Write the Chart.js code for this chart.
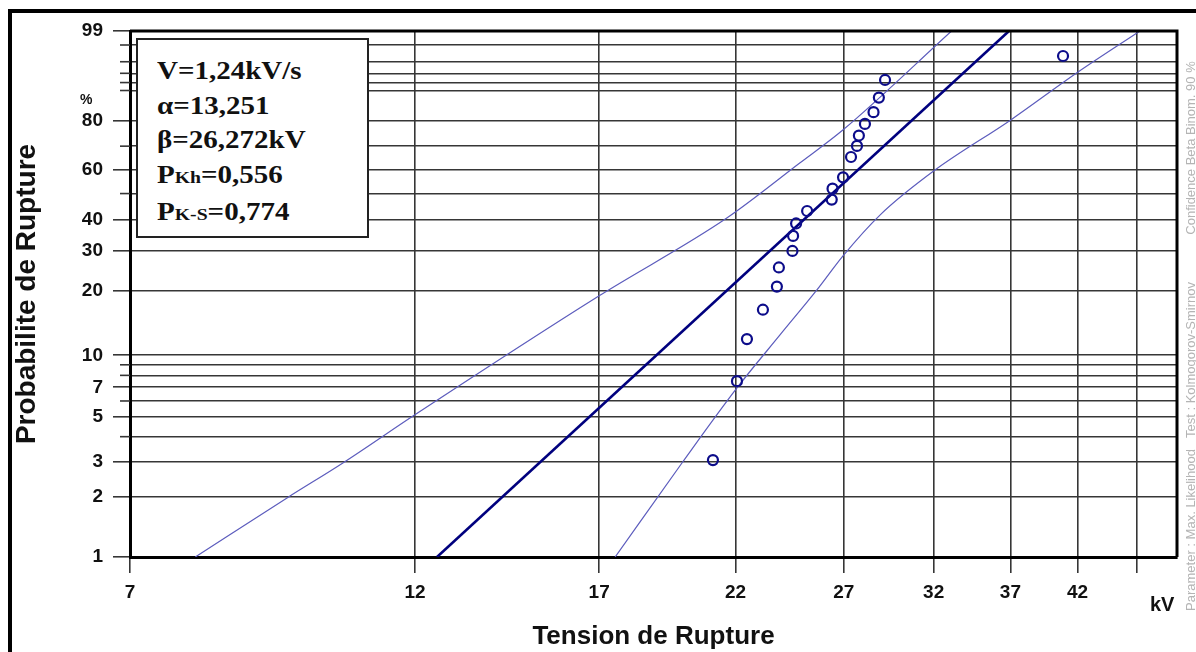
<!DOCTYPE html>
<html>
<head>
<meta charset="utf-8">
<title>Probabilite de Rupture</title>
<script src="https://cdn.jsdelivr.net/npm/chart.js@4.4.0/dist/chart.umd.min.js"></script>
<style>
html, body { margin:0; padding:0; background:#fff; }
#wrap { position:relative; width:1196px; height:652px; overflow:hidden; background:#fff; }
#chart { position:absolute; left:0; top:0; }
.frame { position:absolute; left:8px; top:9px; width:1400px; height:900px;
  border-left:4px solid #000; border-top:4px solid #000; pointer-events:none; }
.params { position:absolute; left:136px; top:38px; width:233px; height:200px; box-sizing:border-box;
  border:2px solid #222; background:#fff; padding:14px 0 0 19px;
  font-family:"Liberation Serif","Times New Roman",serif; font-weight:bold; font-size:25px;
  line-height:34.5px; color:#111; white-space:nowrap; }
.params .txt { display:inline-block; transform:scaleX(1.16); transform-origin:left top; }
.params .sub { font-size:17px; }
.pct { position:absolute; left:80px; top:91px; font:bold 14px "Liberation Sans", Arial, sans-serif; color:#111; }
.kv { position:absolute; left:1150px; top:594px; font:bold 20px "Liberation Sans", Arial, sans-serif; color:#111; line-height:20px; }
.side { position:absolute; left:1190px; font:13px "Liberation Sans", Arial, sans-serif; color:#b4b4b4;
  white-space:nowrap; transform:translate(-50%,-50%) rotate(-90deg); }
</style>
</head>
<body>
<div id="wrap">
  <canvas id="chart" width="1196" height="652"></canvas>
  <div class="params"><span class="txt">
    V=1,24kV/s<br>
    α=13,251<br>
    β=26,272kV<br>
    P<span class="sub">Kh</span>=0,556<br>
    P<span class="sub">K-S</span>=0,774
  </span></div>
  <div class="pct">%</div>
  <div class="kv">kV</div>
  <div class="side" style="top:530px">Parameter : Max. Likelihood</div>
  <div class="side" style="top:360px">Test : Kolmogorov-Smirnov</div>
  <div class="side" style="top:148px">Confidence Beta Binom. 90 %</div>
  <div class="frame"></div>
</div>
<script>
// axis ticks (kV on a log axis, % on a Weibull axis)
const kvTicks = [7, 12, 17, 22, 27, 32, 37, 42, 47];
const kvTickLabels = ["7", "12", "17", "22", "27", "32", "37", "42", ""];
const kvRange = [7, 50.7];
const pctTicks = [1, 2, 3, 4, 5, 6, 7, 8, 9, 10, 20, 30, 40, 50, 60, 70, 80, 90, 92, 94, 96, 98, 99];
const pctTickLabels = ["1", "2", "3", "", "5", "", "7", "", "", "10", "20", "30", "40", "", "60", "", "80", "", "", "", "", "", "99"];
const pctRange = [1, 99];

// measured breakdowns
const ruptureKv  = [21.08, 22.06, 22.48, 23.17, 23.79, 23.88, 24.50, 24.53, 24.67, 25.19, 26.39,
                    26.43, 26.96, 27.37, 27.68, 27.78, 28.10, 28.56, 28.85, 29.19, 40.87];
const rupturePct = [3.06, 7.5, 11.95, 16.4, 20.9, 25.4, 29.9, 34.5, 38.7, 43.2, 47.6,
                    52.0, 56.7, 65.4, 70.1, 74.4, 79.0, 83.3, 88.0, 92.6, 96.8];

// fitted line
const fitKv  = [12.51, 36.9];
const fitPct = [1, 99];

// confidence bounds 90 %
const upperKv  = [7.92, 9.42, 10.47, 11.98, 17.0, 21.64, 24.84, 26.95, 33.1];
const upperPct = [1, 1.98, 2.96, 5.1, 19.0, 40.6, 62.8, 76.6, 99];
const lowerKv  = [17.52, 19.88, 22.06, 23.93, 25.66, 26.96, 28.91, 32.08, 37.0, 41.96, 47.27];
const lowerPct = [1, 2.96, 6.95, 12.5, 20.2, 28.5, 41.7, 59.8, 80.4, 94.1, 99];

function tx(kv) { return Math.log(kv); }
function ty(p) { return Math.log(-Math.log(1 - p / 100)); }
function toPoints(xs, ys) { return xs.map((v, i) => ({ x: tx(v), y: ty(ys[i]) })); }

Chart.defaults.font.family = '"Liberation Sans", Arial, sans-serif';

const tickFont = { family: '"Liberation Sans", Arial, sans-serif', size: 19, weight: 'bold' };
const gridColor = '#363636';

// short marks for unlabeled % ticks, plus top/right frame of the plot
const extras = {
    id: 'extras',
    afterDraw(chart) {
        const { ctx, chartArea: a, scales: { y } } = chart;
        ctx.save();
        ctx.strokeStyle = gridColor;
        ctx.lineWidth = 1.6;
        pctTicks.forEach((p, i) => {
            if (pctTickLabels[i]) return;
            const py = y.getPixelForValue(ty(p));
            ctx.beginPath();
            ctx.moveTo(a.left - 10, py);
            ctx.lineTo(a.left, py);
            ctx.stroke();
        });
        ctx.strokeStyle = '#000';
        ctx.lineWidth = 3;
        ctx.beginPath();
        ctx.moveTo(a.left, a.top);
        ctx.lineTo(a.right, a.top);
        ctx.lineTo(a.right, a.bottom);
        ctx.stroke();
        ctx.restore();
    }
};

const ctx = document.getElementById("chart");

const chart = new Chart(ctx, {
    type: "scatter",
    data: {
        datasets: [
        {
            label: "Ruptures",
            data: toPoints(ruptureKv, rupturePct),
            pointStyle: "circle",
            pointRadius: 5,
            pointBorderWidth: 2.2,
            borderColor: "#0c0c8a",
            backgroundColor: "rgba(255,255,255,0)",
            showLine: false
        },
        {
            label: "Weibull",
            data: toPoints(fitKv, fitPct),
            showLine: true,
            pointRadius: 0,
            borderColor: "#00007e",
            borderWidth: 2.6
        },
        {
            label: "Upper",
            data: toPoints(upperKv, upperPct),
            showLine: true,
            pointRadius: 0,
            borderColor: "#5c5cbd",
            borderWidth: 1.2,
            cubicInterpolationMode: "monotone"
        },
        {
            label: "Lower",
            data: toPoints(lowerKv, lowerPct),
            showLine: true,
            pointRadius: 0,
            borderColor: "#5c5cbd",
            borderWidth: 1.2,
            cubicInterpolationMode: "monotone"
        }]
    },
    options: {
        responsive: false,
        animation: false,
        devicePixelRatio: 1,
        layout: { padding: { left: 0, top: 31, right: 19, bottom: 0 } },
        plugins: {
            legend: { display: false },
            tooltip: { enabled: false }
        },
        scales: {
            x: {
                type: "linear",
                min: tx(kvRange[0]),
                max: tx(kvRange[1]),
                afterBuildTicks: s => { s.ticks = kvTicks.map(v => ({ value: tx(v) })); },
                afterFit: s => { s.height = 95; },
                ticks: {
                    autoSkip: false,
                    maxRotation: 0,
                    padding: 8,
                    color: "#111",
                    font: tickFont,
                    callback: (v, i) => kvTickLabels[i]
                },
                grid: { color: gridColor, lineWidth: 1.6, tickLength: 16, tickColor: gridColor, tickWidth: 1.6 },
                border: { color: "#000", width: 3 },
                title: {
                    display: true,
                    text: "Tension de Rupture",
                    color: "#111",
                    font: { family: '"Liberation Sans", Arial, sans-serif', size: 26, weight: 'bold' },
                    padding: { top: 0, bottom: 0 }
                }
            },
            y: {
                type: "linear",
                min: ty(pctRange[0]),
                max: ty(pctRange[1]),
                afterBuildTicks: s => { s.ticks = pctTicks.map(v => ({ value: ty(v) })); },
                afterFit: s => { s.width = 130; },
                ticks: {
                    autoSkip: false,
                    padding: 10,
                    color: "#111",
                    font: tickFont,
                    callback: (v, i) => pctTickLabels[i]
                },
                grid: {
                    color: gridColor,
                    lineWidth: 1.6,
                    tickLength: 17,
                    tickWidth: 1.6,
                    tickColor: c => pctTickLabels[c.index] ? gridColor : "rgba(0,0,0,0)"
                },
                border: { color: "#000", width: 3 },
                title: {
                    display: true,
                    text: "Probabilite de Rupture",
                    color: "#111",
                    font: { family: '"Liberation Sans", Arial, sans-serif', size: 28, weight: 'bold' },
                    padding: { top: 10, bottom: 0 }
                }
            }
        }
    },
    plugins: [extras]
});
</script>
</body>
</html>
